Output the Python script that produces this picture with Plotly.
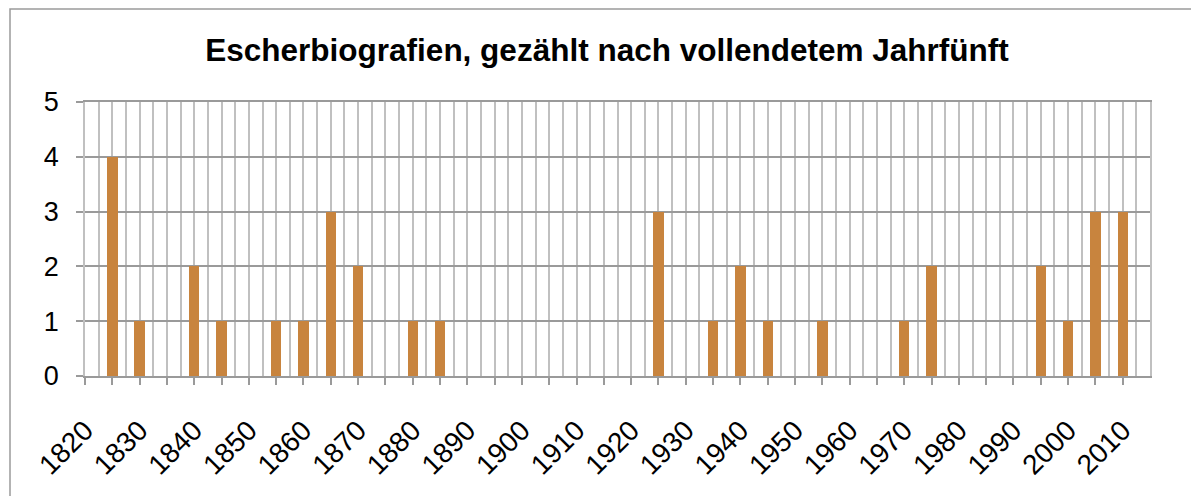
import plotly.graph_objects as go

# --- data ---
years = [1820, 1825, 1830, 1835, 1840, 1845, 1850, 1855, 1860, 1865,
         1870, 1875, 1880, 1885, 1890, 1895, 1900, 1905, 1910, 1915,
         1920, 1925, 1930, 1935, 1940, 1945, 1950, 1955, 1960, 1965,
         1970, 1975, 1980, 1985, 1990, 1995, 2000, 2005, 2010]
counts = [0, 4, 1, 0, 2, 1, 0, 1, 1, 3,
          2, 0, 1, 1, 0, 0, 0, 0, 0, 0,
          0, 3, 0, 1, 2, 1, 0, 1, 0, 0,
          1, 2, 0, 0, 0, 2, 1, 3, 3]
tick_labels = ["1820", "", "1830", "", "1840", "", "1850", "", "1860", "",
               "1870", "", "1880", "", "1890", "", "1900", "", "1910", "",
               "1920", "", "1930", "", "1940", "", "1950", "", "1960", "",
               "1970", "", "1980", "", "1990", "", "2000", "", "2010"]
y_ticks = [0, 1, 2, 3, 4, 5]
title_text = "Escherbiografien, gezählt nach vollendetem Jahrfünft"

OFF = 8  # page body margin
W, H = 1199 - OFF, 496 - OFF
L, R, T, B = 85 - OFF, 1150 - OFF, 102 - OFF, 376 - OFF  # plot area in figure pixels

fig = go.Figure()
fig.add_trace(go.Bar(
    x=years, y=counts,
    width=1.9,
    marker=dict(color="#C8843E", line=dict(width=0)),
    hoverinfo="x+y",
))

def px_to_paper_x(px):
    return (px - OFF - L) / (R - L)

def px_to_paper_y(py):
    return (B - (py - OFF)) / (B - T)

fig.update_layout(
    width=W, height=H,
    margin=dict(l=L, r=W - R, t=T, b=H - B, autoexpand=False),
    paper_bgcolor="white", plot_bgcolor="white",
    showlegend=False,
    bargap=0,
    font=dict(family="Liberation Sans, Arial, Helvetica, sans-serif", color="black", size=26),
    title=dict(
        text="<b>" + title_text + "</b>",
        x=(607 - OFF - L) / (R - L), xanchor="center", xref="paper",
        y=1 - (50 - OFF) / H, yanchor="middle", yref="container",
        font=dict(size=31.5, family="Liberation Sans, Arial, sans-serif", color="black"),
    ),
    xaxis=dict(
        range=[1820, 2015],
        tickmode="array", tickvals=years, ticktext=tick_labels,
        tickangle=-45,
        ticks="outside", ticklen=7, tickwidth=1.5, tickcolor="#9a9a9a",
        showline=True, linecolor="#9a9a9a", linewidth=1.5, mirror=True,
        showgrid=True, gridcolor="#c0c0c0", gridwidth=1.5,
        minor=dict(dtick=2.5, tick0=1820, showgrid=True, gridcolor="#c0c0c0", gridwidth=1.5, ticks=""),
        zeroline=False,
        tickfont=dict(size=28),
        ticklabelstandoff=18,
        fixedrange=True,
    ),
    yaxis=dict(
        range=[0, 5],
        tickmode="array", tickvals=y_ticks,
        ticks="outside", ticklen=7, tickwidth=1.5, tickcolor="#9a9a9a",
        showline=True, linecolor="#c0c0c0", linewidth=1.5, mirror=True,
        showgrid=True, gridcolor="#9a9a9a", gridwidth=1.5,
        zeroline=False,
        tickfont=dict(size=27),
        ticklabelstandoff=12,
        fixedrange=True,
    ),
    shapes=[
        dict(type="rect", xref="paper", yref="paper",
             x0=px_to_paper_x(10), x1=px_to_paper_x(1210),
             y0=px_to_paper_y(510), y1=px_to_paper_y(9),
             line=dict(color="#9a9a9a", width=1.5), fillcolor="rgba(0,0,0,0)",
             layer="below"),
    ],
)

fig.write_html("out.html")
